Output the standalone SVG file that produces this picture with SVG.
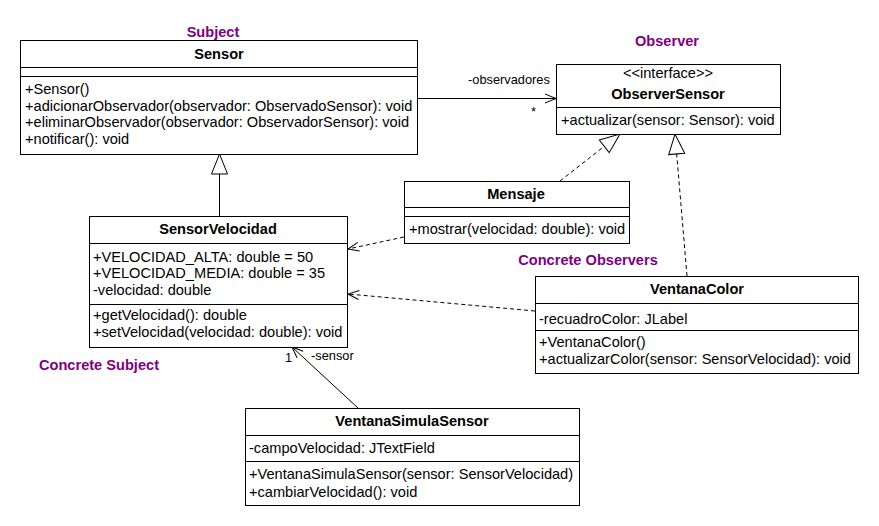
<svg xmlns="http://www.w3.org/2000/svg" width="879" height="526" viewBox="0 0 879 526">
<style>
text{font-family:"Liberation Sans",Arial,sans-serif;font-size:14.6px;fill:#000}
.t{font-weight:bold;text-anchor:middle}
.lbl{font-weight:bold;fill:#800080;text-anchor:middle}
.s{font-size:12.8px}
.c{text-anchor:middle}
.box{fill:#fff;stroke:#000;stroke-width:1}
.ln{stroke:#000;stroke-width:1;fill:none}
.dash{stroke-dasharray:4,3}
</style>
<defs>
<marker id="open" markerUnits="userSpaceOnUse" markerWidth="14" markerHeight="12" refX="11" refY="4.5" orient="auto" overflow="visible">
<path d="M0,0 L11,4.5 L0,9" fill="none" stroke="#000" stroke-width="1"/>
</marker>
<marker id="tri" markerUnits="userSpaceOnUse" markerWidth="24" markerHeight="20" refX="20" refY="8" orient="auto" overflow="visible">
<path d="M0,0 L20,8 L0,16 Z" fill="#fff" stroke="#000" stroke-width="1"/>
</marker>
</defs>
<rect width="879" height="526" fill="#fff"/>

<g id="labels">
<text class="lbl" x="213" y="37">Subject</text>
<text class="lbl" x="667" y="46">Observer</text>
<text class="lbl" x="588" y="265">Concrete Observers</text>
<text class="lbl" x="99" y="370">Concrete Subject</text>
</g>

<g id="connectors">
<line class="ln" x1="219.5" y1="216" x2="219.5" y2="154" marker-end="url(#tri)"/>
<line class="ln dash" x1="560" y1="181" x2="620" y2="134" marker-end="url(#tri)"/>
<line class="ln dash" x1="687" y1="276" x2="675" y2="134" marker-end="url(#tri)"/>
<line class="ln" x1="417" y1="98.5" x2="556" y2="98.5" marker-end="url(#open)"/>
<line class="ln dash" x1="404" y1="237" x2="348" y2="249" marker-end="url(#open)"/>
<line class="ln dash" x1="535" y1="311" x2="348" y2="294" marker-end="url(#open)"/>
<line class="ln" x1="358" y1="408" x2="292" y2="347" marker-end="url(#open)"/>
<text class="s" x="468" y="84">-observadores</text>
<text class="s" x="531" y="116">*</text>
<text class="s" x="285" y="362">1</text>
<text class="s" x="311" y="360">-sensor</text>
</g>

<g id="Sensor">
<rect class="box" x="20.5" y="40.5" width="397" height="114"/>
<line class="ln" x1="20" y1="67.5" x2="417" y2="67.5"/>
<line class="ln" x1="20" y1="76.5" x2="417" y2="76.5"/>
<text class="t" x="219" y="59">Sensor</text>
<text x="25" y="94">+Sensor()</text>
<text x="25" y="110.5">+adicionarObservador(observador: ObservadoSensor): void</text>
<text x="25" y="127">+eliminarObservador(observador: ObservadorSensor): void</text>
<text x="25" y="143.5">+notificar(): void</text>
</g>

<g id="ObserverSensor">
<rect class="box" x="556.5" y="64.5" width="224" height="70"/>
<line class="ln" x1="556" y1="107.5" x2="780" y2="107.5"/>
<text class="c" x="668" y="78">&lt;&lt;interface&gt;&gt;</text>
<text class="t" x="668" y="99">ObserverSensor</text>
<text x="561" y="125">+actualizar(sensor: Sensor): void</text>
</g>

<g id="Mensaje">
<rect class="box" x="404.5" y="181.5" width="225" height="62"/>
<line class="ln" x1="404" y1="207.5" x2="629" y2="207.5"/>
<line class="ln" x1="404" y1="216.5" x2="629" y2="216.5"/>
<text class="t" x="516" y="199">Mensaje</text>
<text x="409" y="234">+mostrar(velocidad: double): void</text>
</g>

<g id="SensorVelocidad">
<rect class="box" x="89.5" y="216.5" width="258" height="131"/>
<line class="ln" x1="89" y1="243.5" x2="347" y2="243.5"/>
<line class="ln" x1="89" y1="304.5" x2="347" y2="304.5"/>
<text class="t" x="218" y="234">SensorVelocidad</text>
<text x="93" y="261.5">+VELOCIDAD_ALTA: double = 50</text>
<text x="93" y="278">+VELOCIDAD_MEDIA: double = 35</text>
<text x="93" y="294.5">-velocidad: double</text>
<text x="93" y="320">+getVelocidad(): double</text>
<text x="93" y="337">+setVelocidad(velocidad: double): void</text>
</g>

<g id="VentanaColor">
<rect class="box" x="535.5" y="276.5" width="323" height="97"/>
<line class="ln" x1="535" y1="303.5" x2="858" y2="303.5"/>
<line class="ln" x1="535" y1="330.5" x2="858" y2="330.5"/>
<text class="t" x="697" y="294">VentanaColor</text>
<text x="539" y="324">-recuadroColor: JLabel</text>
<text x="539" y="347">+VentanaColor()</text>
<text x="539" y="364">+actualizarColor(sensor: SensorVelocidad): void</text>
</g>

<g id="VentanaSimulaSensor">
<rect class="box" x="245.5" y="408.5" width="334" height="97"/>
<line class="ln" x1="245" y1="435.5" x2="579" y2="435.5"/>
<line class="ln" x1="245" y1="461.5" x2="579" y2="461.5"/>
<text class="t" x="412" y="425.5">VentanaSimulaSensor</text>
<text x="249" y="453">-campoVelocidad: JTextField</text>
<text x="249" y="479">+VentanaSimulaSensor(sensor: SensorVelocidad)</text>
<text x="249" y="496.5">+cambiarVelocidad(): void</text>
</g>
</svg>
